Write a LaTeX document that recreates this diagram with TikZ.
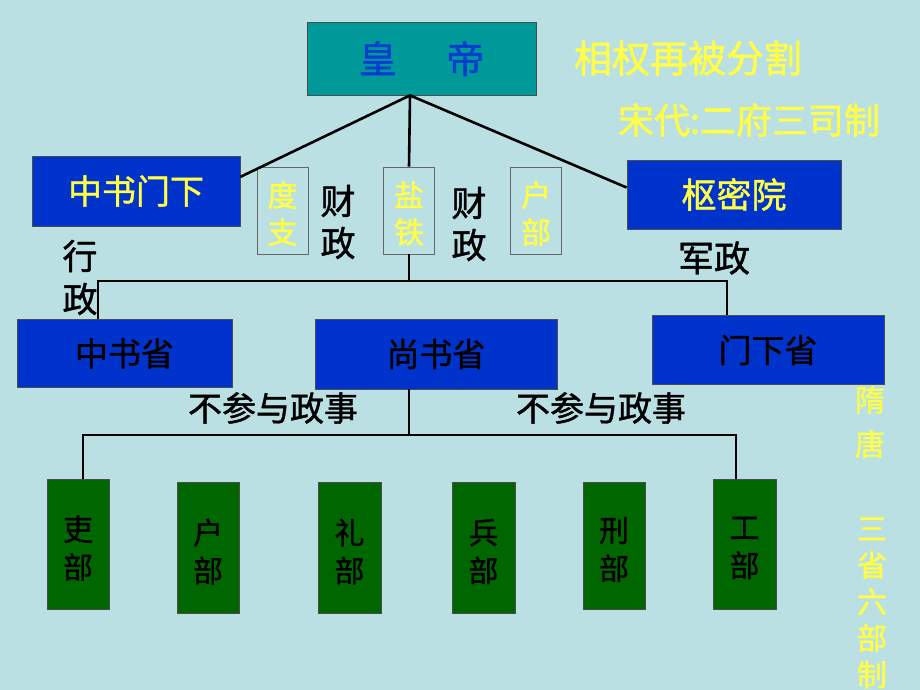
\documentclass[tikz,border=0pt]{standalone}
\usepackage{fontspec}
\usetikzlibrary{calc}
\newfontfamily\cjk[FakeBold=1.2]{Noto Sans CJK SC}
\definecolor{bgc}{RGB}{187,224,228}
\definecolor{tealc}{RGB}{0,153,153}
\definecolor{boxblue}{RGB}{0,51,204}
\definecolor{txtblue}{RGB}{10,60,210}
\definecolor{yel}{RGB}{255,255,70}
\definecolor{grn}{RGB}{0,102,0}
\tikzset{
  fs/.style={font={\cjk\fontsize{#1}{#1}\selectfont}},
  blubox/.style={draw=black!70,line width=0.8pt,fill=boxblue,inner sep=0pt},
  smallbox/.style={draw=black!60,line width=0.8pt,inner sep=0pt,minimum width=51pt,minimum height=87pt},
  smalltxt/.style={align=center,inner sep=0pt,text=yel,font={\cjk\fontsize{30}{37}\selectfont}},
  grnbox/.style={draw=black!70,line width=0.8pt,fill=grn,inner sep=0pt},
  grntxt/.style={align=center,inner sep=0pt,font={\cjk\fontsize{30}{38}\selectfont}},
  vtext/.style={align=center,inner sep=0pt},
  thk/.style={line width=2.6pt,black},
  thn/.style={line width=1.2pt,black}
}
\begin{document}
\begin{tikzpicture}[x=1pt,y=-1pt]
\useasboundingbox (0,0) rectangle (920,690);
\fill[bgc] (0,0) rectangle (920,690);
% emperor
\node[draw=black!70,line width=0.8pt,fill=tealc,minimum width=229pt,minimum height=73pt,inner sep=0pt,text=txtblue,fs=38] (emp) at (421.5,58.5) {皇\hspace{1.3em}帝};
% song level
\node[blubox,minimum width=208pt,minimum height=70pt,text=yel,fs=34] (zx) at (136,191) {中书门下};
\node[blubox,minimum width=214pt,minimum height=69pt,text=yel,fs=35] (smy) at (734,194.5) {枢密院};
\node[smallbox] (dz) at (282.5,210.5) {};
\node[smallbox] (yt) at (409,210.5) {};
\node[smallbox] (hb1) at (536,210.5) {};
\node[smalltxt] (dzt) at ([yshift=-3pt]dz.center) {度\\支};
\node[smalltxt] (ytt) at ([yshift=-3pt]yt.center) {盐\\铁};
\node[smalltxt] (hb1t) at ([yshift=-3pt]hb1.center) {户\\部};
\node[vtext,font={\cjk\fontsize{35}{42}\selectfont}] (cz1) at (338,222) {财\\政};
\node[vtext,font={\cjk\fontsize{35}{42}\selectfont}] (cz2) at (469,224) {财\\政};
\node[vtext,font={\cjk\fontsize{35}{43}\selectfont}] (xz) at (80,277.5) {行\\政};
\node[inner sep=0pt,fs=36] (jz) at (714,258) {军政};
% right texts
\node[inner sep=0pt,text=yel,fs=38] (t1) at (688,58) {相权再被分割};
\node[inner sep=0pt,text=yel,fs=36] (t2) at (749,120) {宋代:二府三司制};
\node[vtext,text=yel,font={\cjk\fontsize{30}{44}\selectfont}] (t3) at (870,422) {隋\\唐};
\node[vtext,text=yel,font={\cjk\fontsize{30}{36.5}\selectfont}] (t4) at (872,603) {三\\省\\六\\部\\制};
% three departments
\node[blubox,minimum width=215pt,minimum height=68pt,fs=33] (zss) at (124.5,353.5) {中书省};
\node[blubox,minimum width=242pt,minimum height=70pt,fs=33] (sss) at (436,354) {尚书省};
\node[blubox,minimum width=232pt,minimum height=69pt,fs=33] (mxs) at (768,350) {门下省};
\node[inner sep=0pt,fs=34] (bc1) at (273,408) {不参与政事};
\node[inner sep=0pt,fs=34] (bc2) at (601,408) {不参与政事};
% six ministries
\node[grnbox,minimum width=62pt,minimum height=130pt] (lb) at (78,544) {};
\node[grnbox,minimum width=62pt,minimum height=131pt] (hb) at (208,547.5) {};
\node[grnbox,minimum width=63pt,minimum height=131pt] (lib) at (349.5,547.5) {};
\node[grnbox,minimum width=63pt,minimum height=131pt] (bb) at (483.5,547.5) {};
\node[grnbox,minimum width=62pt,minimum height=127pt] (xb) at (614,545.5) {};
\node[grnbox,minimum width=63pt,minimum height=130pt] (gb) at (744.5,544) {};
\node[grntxt] (lbt) at ([yshift=-4pt]lb.center) {吏\\部};
\node[grntxt] (hbt) at ([yshift=-4pt]hb.center) {户\\部};
\node[grntxt] (libt) at ([yshift=-4pt]lib.center) {礼\\部};
\node[grntxt] (bbt) at ([yshift=-4pt]bb.center) {兵\\部};
\node[grntxt] (xbt) at ([yshift=-4pt]xb.center) {刑\\部};
\node[grntxt] (gbt) at ([yshift=-4pt]gb.center) {工\\部};
% connectors
\coordinate (top) at ([xshift=-11.5pt]emp.south);
\draw[thk] ($(zx.north east)!0.3!(zx.south east)$) -- (top) -- ($(smy.north west)!0.4!(smy.south west)$);
\draw[thk] (top) -- (yt.north);
\coordinate (hl) at (98,281);
\coordinate (hr) at (727,281);
\draw[thk] (zss.north -| hl) -- (hl) -- (hr) -- (hr |- mxs.north);
\draw[thk] (yt.south) -- (yt.south |- hl);
\coordinate (bm) at (409,435);
\coordinate (bl) at (83,435);
\coordinate (br) at (736,435);
\draw[thn] (sss.south -| bm) -- (bm);
\draw[thn] (lb.north -| bl) -- (bl) -- (br) -- (br |- gb.north);
\end{tikzpicture}
\end{document}
